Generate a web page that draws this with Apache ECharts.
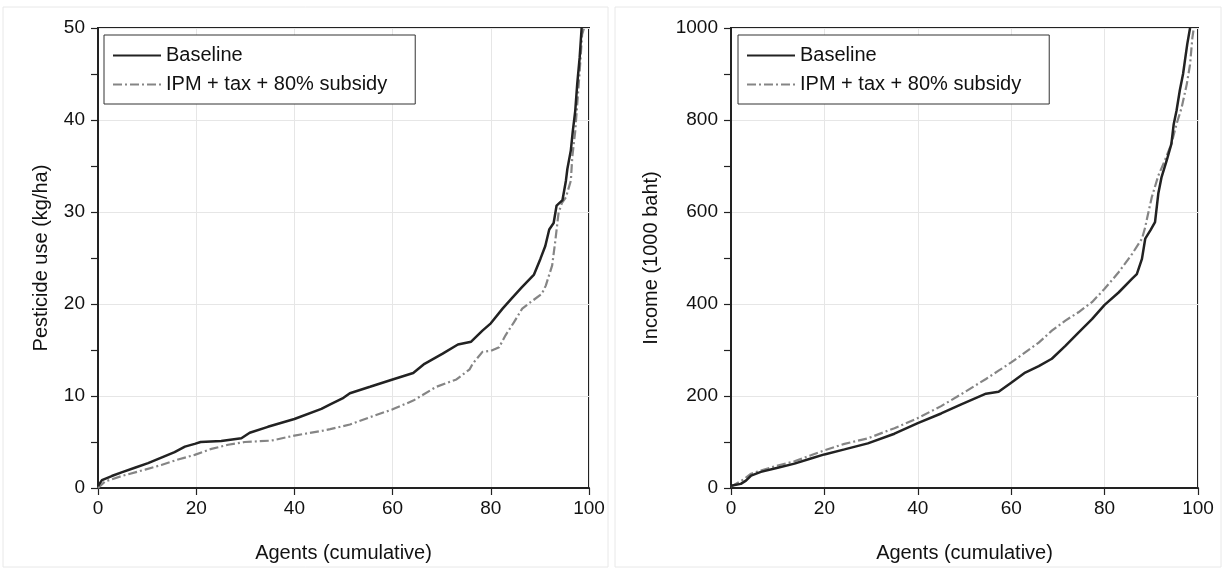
<!DOCTYPE html>
<html>
<head>
<meta charset="utf-8">
<script src="https://cdn.jsdelivr.net/npm/echarts@6/dist/echarts.min.js"></script>
<style>
  html, body { margin: 0; padding: 0; background: #ffffff; }
  #chart { width: 1224px; height: 569px; }
</style>
</head>
<body>
<div id="chart"></div>
<script>
// Cumulative share of agents (%) against pesticide use and income, two scenarios.
const seriesNames = ['Baseline', 'IPM + tax + 80% subsidy'];

// Pesticide use (kg/ha), baseline
const pestBaseX = [0, 0.8, 2.8, 4.8, 7.5, 10.2, 12.9, 15.6, 17.7, 19.7, 20.9, 25.1, 29.2, 30.9, 34.6, 40.0, 45.5, 47.3, 50.0, 51.3, 55.4, 60.0, 64.2, 66.5, 70.2, 73.3, 76.0, 78.3, 80.0, 82.4, 84.4, 86.3, 88.8, 90.1, 91.1, 91.9, 92.8, 93.4, 94.6, 95.3, 95.6, 96.3, 96.7, 97.2, 97.6, 98.1, 98.5];
const pestBaseY = [0.2, 0.85, 1.3, 1.7, 2.2, 2.7, 3.3, 3.9, 4.5, 4.8, 5.0, 5.1, 5.4, 6.0, 6.65, 7.5, 8.6, 9.1, 9.8, 10.3, 11.0, 11.8, 12.5, 13.5, 14.6, 15.6, 15.9, 17.1, 17.9, 19.5, 20.7, 21.8, 23.2, 24.9, 26.3, 28.1, 28.8, 30.7, 31.3, 33.4, 34.7, 36.7, 38.8, 41.0, 43.9, 46.8, 50.0];

// Pesticide use (kg/ha), IPM + tax + 80% subsidy
const pestIpmX = [0, 1.4, 4.8, 9.6, 12.9, 16.3, 19.7, 23.1, 26.5, 29.9, 35.3, 40.0, 45.5, 47.3, 51.3, 55.4, 60.0, 64.2, 68.9, 73.0, 75.7, 76.3, 78.3, 80.0, 81.7, 83.0, 84.7, 86.4, 88.1, 90.4, 91.2, 92.5, 93.1, 93.8, 94.5, 95.3, 96.3, 96.6, 97.2, 97.6, 98.1, 98.6, 99.0];
const pestIpmY = [0, 0.7, 1.3, 2.0, 2.5, 3.1, 3.6, 4.25, 4.7, 5.0, 5.15, 5.7, 6.2, 6.4, 6.9, 7.7, 8.55, 9.5, 11.0, 11.8, 12.9, 13.5, 14.8, 14.9, 15.3, 16.6, 18.0, 19.5, 20.2, 21.1, 22.0, 24.2, 26.7, 29.9, 31.0, 31.6, 33.4, 36.0, 38.8, 41.7, 45.3, 49.3, 50.0];

// Income (1000 baht), baseline
const incBaseX = [0, 2.1, 3.2, 4.3, 6.4, 10, 13.6, 17.1, 20, 24.3, 29.3, 35, 40, 45, 49.3, 54.6, 57.3, 60, 63, 65.9, 68.7, 71.6, 74.4, 77.3, 80, 83, 85.9, 86.9, 88, 88.7, 89.8, 90.8, 91.5, 92.2, 93.3, 94.3, 94.8, 95.4, 96.1, 96.8, 97.2, 97.7, 98.3];
const incBaseY = [5, 9, 16, 27, 35, 44, 53, 64, 73, 84, 97, 118, 141, 162, 182, 205, 209, 229, 251, 265, 281, 309, 338, 367, 398, 425, 455, 465, 498, 542, 560, 578, 640, 676, 712, 748, 791, 820, 864, 900, 929, 965, 1000];

// Income (1000 baht), IPM + tax + 80% subsidy
const incIpmX = [0, 2.9, 4.3, 6.4, 10, 13.6, 17.1, 20, 24.3, 29.3, 35, 40, 45, 49.3, 54.6, 57.3, 60, 63, 65.9, 68.7, 71.6, 74.4, 77.3, 80, 83, 85.9, 88, 88.7, 89, 90.1, 91.5, 92.9, 94.3, 95.4, 96.5, 97.6, 98.3, 98.8, 99.1];
const incIpmY = [3, 20, 31, 38, 49, 58, 71, 82, 96, 108, 130, 152, 178, 204, 237, 255, 273, 295, 316, 342, 364, 382, 404, 433, 469, 509, 542, 567, 582, 632, 679, 712, 748, 791, 827, 878, 921, 979, 1000];

const xTitle = 'Agents (cumulative)';
const yTitles = ['Pesticide use (kg/ha)', 'Income (1000 baht)'];

const pairs = (xs, ys) => xs.map((x, i) => [x, ys[i]]);

const FONT = '"Liberation Sans", Arial, sans-serif';
const INK = '#111111';
const AXIS = '#222222';
const GRIDLINE = '#e6e6e6';

const baseStyle = { color: '#222222', width: 2.5, type: 'solid' };
const ipmStyle = { color: '#858585', width: 2.2, type: [9, 3, 2, 3] };

function xAxisFor(gridIndex) {
  return {
    type: 'value', gridIndex, min: 0, max: 100, interval: 20,
    name: xTitle, nameLocation: 'middle', nameGap: 55,
    nameTextStyle: { fontFamily: FONT, fontSize: 20, color: INK },
    axisLine: { show: true, onZero: false, lineStyle: { color: AXIS, width: 2 } },
    axisTick: { show: true, length: 7, lineStyle: { color: AXIS, width: 1.2 } },
    axisLabel: { fontFamily: FONT, fontSize: 19, color: INK, margin: 11 },
    splitLine: { show: true, lineStyle: { color: GRIDLINE, width: 1 } }
  };
}

function yAxisFor(gridIndex, max, interval, gap) {
  return {
    type: 'value', gridIndex, min: 0, max, interval,
    name: yTitles[gridIndex], nameLocation: 'middle', nameGap: gap,
    nameTextStyle: { fontFamily: FONT, fontSize: 20, color: INK },
    axisLine: { show: true, onZero: false, lineStyle: { color: AXIS, width: 2 } },
    axisTick: { show: true, length: 7, lineStyle: { color: AXIS, width: 1.2 } },
    minorTick: { show: true, splitNumber: 2, length: 7, lineStyle: { color: AXIS, width: 1.2 } },
    axisLabel: { fontFamily: FONT, fontSize: 19, color: INK, margin: 13, formatter: (v) => String(v) },
    splitLine: { show: true, lineStyle: { color: GRIDLINE, width: 1 } }
  };
}

function legendAt(left) {
  return {
    orient: 'vertical', left, top: 35,
    data: seriesNames,
    backgroundColor: '#ffffff',
    borderColor: '#333333', borderWidth: 1,
    padding: [10, 28, 9, 8],
    itemWidth: 48, itemHeight: 14, itemGap: 8,
    selectedMode: false,
    itemStyle: { color: 'transparent', borderWidth: 0, opacity: 0 },
    textStyle: { fontFamily: FONT, fontSize: 20, color: INK, lineHeight: 21 }
  };
}

function lineSeries(name, data, idx, style) {
  return {
    name, type: 'line', data,
    xAxisIndex: idx, yAxisIndex: idx,
    showSymbol: false, symbol: 'none',
    lineStyle: style, itemStyle: { color: style.color },
    animation: false, clip: true, z: name === seriesNames[0] ? 3 : 2
  };
}

const chart = echarts.init(document.getElementById('chart'), null, { renderer: 'canvas' });
chart.setOption({
  backgroundColor: '#ffffff',
  animation: false,
  graphic: [
    { type: 'rect', shape: { x: 3, y: 7, width: 605, height: 560 }, style: { fill: 'none', stroke: '#e8e8e8', lineWidth: 1 }, silent: true, z: -10 },
    { type: 'rect', shape: { x: 615, y: 7, width: 606, height: 560 }, style: { fill: 'none', stroke: '#e8e8e8', lineWidth: 1 }, silent: true, z: -10 }
  ],
  grid: [
    { left: 98, right: 635, top: 28, bottom: 81, show: true, borderColor: AXIS, borderWidth: 2, backgroundColor: 'transparent' },
    { left: 731, right: 26, top: 28, bottom: 81, show: true, borderColor: AXIS, borderWidth: 2, backgroundColor: 'transparent' }
  ],
  legend: [legendAt(104), legendAt(738)],
  xAxis: [xAxisFor(0), xAxisFor(1)],
  yAxis: [yAxisFor(0, 50, 10, 47), yAxisFor(1, 1000, 200, 70)],
  series: [
    lineSeries(seriesNames[0], pairs(pestBaseX, pestBaseY), 0, baseStyle),
    lineSeries(seriesNames[1], pairs(pestIpmX, pestIpmY), 0, ipmStyle),
    lineSeries(seriesNames[0], pairs(incBaseX, incBaseY), 1, baseStyle),
    lineSeries(seriesNames[1], pairs(incIpmX, incIpmY), 1, ipmStyle)
  ]
});
</script>
</body>
</html>
